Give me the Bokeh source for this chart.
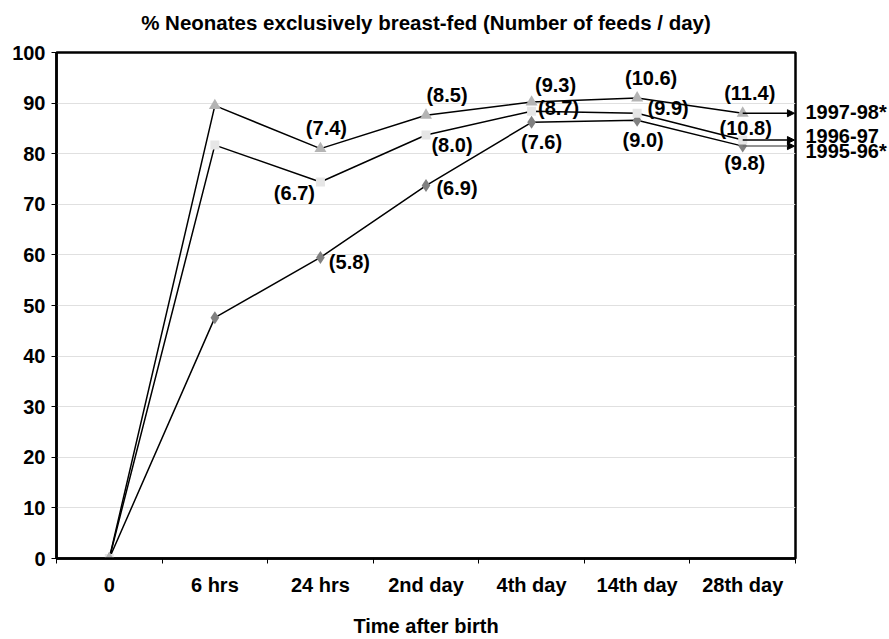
from bokeh.plotting import figure
from bokeh.models import (Range1d, FixedTicker, ColumnDataSource, Arrow, NormalHead, LinearAxis, Title)
from bokeh.core.properties import value
from bokeh.embed import file_html
from bokeh.resources import INLINE

# ---- data ----
categories = ["0", "6 hrs", "24 hrs", "2nd day", "4th day", "14th day", "28th day"]
series_names = ["1997-98*", "1996-97", "1995-96*"]
pct_9798 = [0, 89.5, 81.0, 87.6, 90.2, 91.0, 88.0]
pct_9697 = [0, 81.7, 74.4, 83.7, 88.4, 88.0, 82.7]
pct_9596 = [0, 47.6, 59.5, 73.7, 86.2, 86.6, 81.5]
feeds_9798 = ["", "", "(7.4)", "(8.5)", "(9.3)", "(10.6)", "(11.4)"]
feeds_9697 = ["", "", "(6.7)", "(8.0)", "(8.7)", "(9.9)", "(10.8)"]
feeds_9596 = ["", "", "(5.8)", "(6.9)", "(7.6)", "(9.0)", "(9.8)"]
y_ticks = list(range(0, 101, 10))

# ---- label placement (screen offsets in px, y downward) ----
off_9798 = [(0, 0), (0, 0), (6, -21), (21, -20), (24, -17), (14, -20), (7, -20)]
off_9697 = [(0, 0), (0, 0), (-26, 11), (26, 10), (27, -3), (31, -5), (3, -12)]
off_9596 = [(0, 0), (0, 0), (29, 5), (31, 2), (10, 20), (6, 20), (2, 17)]
legend_label_y = [88.2, 83.4, 80.6]   # vertical placement of the series names

FONT = "Liberation Sans"
FS = "20px"
x_pos = [i + 0.5 for i in range(len(categories))]

p = figure(width=889, height=639, output_backend="svg", toolbar_location=None,
           x_range=Range1d(0, len(categories)), y_range=Range1d(0, 100),
           min_border_left=56, min_border_right=91, min_border_top=52, min_border_bottom=79)

p.title.text = "% Neonates exclusively breast-fed (Number of feeds / day)"
p.title.align = "center"
p.title.text_font = FONT
p.title.text_font_size = "20.5px"
p.title.text_font_style = "bold"
p.title.text_color = "black"
p.title.standoff = 0

# empty spacer panel between the title and the plot frame
p.add_layout(Title(text=" ", text_font_size="16px", standoff=0), "above")

p.outline_line_color = "black"
p.outline_line_width = 2.5
p.outline_line_alpha = 1

# x axis
xa = p.xaxis[0]
xa.ticker = FixedTicker(ticks=x_pos, minor_ticks=list(range(len(categories) + 1)))
xa.major_label_overrides = {x: c for x, c in zip(x_pos, categories)}
xa.major_tick_line_color = None
xa.minor_tick_line_color = "black"
xa.minor_tick_out = 5
xa.minor_tick_in = 0
xa.axis_line_width = 2.5
xa.major_label_text_font = FONT
xa.major_label_text_font_size = FS
xa.major_label_text_font_style = "bold"
xa.major_label_text_color = "black"
xa.major_label_standoff = 9
xa.axis_label = "Time after birth"
xa.axis_label_text_font = FONT
xa.axis_label_text_font_size = FS
xa.axis_label_text_font_style = "bold"
xa.axis_label_text_color = "black"
xa.axis_label_standoff = 16

# y axis
ya = p.yaxis[0]
ya.ticker = FixedTicker(ticks=y_ticks)
ya.minor_tick_line_color = None
ya.major_tick_out = 5
ya.major_tick_in = 0
ya.axis_line_width = 2.5
ya.major_label_text_font = FONT
ya.major_label_text_font_size = FS
ya.major_label_text_font_style = "bold"
ya.major_label_text_color = "black"
ya.major_label_standoff = 6

p.xgrid.grid_line_color = None
p.ygrid.grid_line_color = "#e0e0e0"
p.ygrid.grid_line_width = 1

series = [
    (pct_9798, feeds_9798, off_9798, "triangle", "#b4b4b4", 12),
    (pct_9697, feeds_9697, off_9697, "square", "#e6e6e6", 9),
    (pct_9596, feeds_9596, off_9596, "diamond", "#808080", 13),
]

for vals, _, _, _, _, _ in series:
    p.line(x_pos, vals, line_color="black", line_width=1.5)

for vals, feeds, offs, marker, color, size in reversed(series):
    src = ColumnDataSource(dict(x=x_pos, y=vals, t=feeds,
                                dx=[o[0] for o in offs], dy=[o[1] for o in offs]))
    p.scatter("x", "y", source=src, marker=marker, size=size, fill_color=color, line_color=None)
    p.text("x", "y", text="t", source=src, x_offset="dx", y_offset="dy",
           text_align="center", text_baseline="middle",
           text_font=value(FONT), text_font_size=FS, text_font_style="bold",
           text_color="black")

# legend arrows pointing to the series names
arrow_colors = ["black", "black", "#6e6e6e"]
for (vals, *_), ac in zip(series, arrow_colors):
    v = vals[-1]
    p.add_layout(Arrow(end=NormalHead(size=7, fill_color="black", line_color="black"),
                       x_start=x_pos[-1], y_start=v, x_end=len(categories) - 0.01, y_end=v,
                       line_color=ac, line_width=1.5))

# series names as a right-hand axis
ra = LinearAxis(ticker=FixedTicker(ticks=legend_label_y))
ra.major_label_overrides = {y: n for y, n in zip(legend_label_y, series_names)}
ra.axis_line_color = None
ra.major_tick_line_color = None
ra.minor_tick_line_color = None
ra.major_label_standoff = 4
ra.major_label_text_font = FONT
ra.major_label_text_font_size = FS
ra.major_label_text_font_style = "bold"
ra.major_label_text_color = "black"
p.add_layout(ra, "right")

open("out.html", "w").write(file_html(p, INLINE))
